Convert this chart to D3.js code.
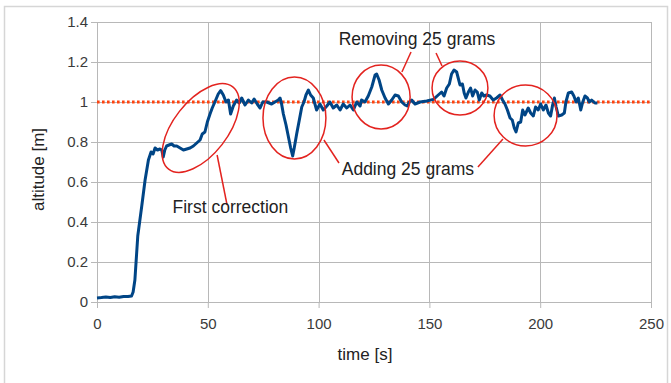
<!DOCTYPE html>
<html>
<head>
<meta charset="utf-8">
<script src="https://d3js.org/d3.v7.min.js"></script>
<style>
  body { margin: 0; background: #fff; }
  #altitudeChart { width: 671px; height: 383px; }
  text { font-family: "Liberation Sans", Arial, sans-serif; }
</style>
</head>
<body>
<div id="altitudeChart"></div>
<script>
// altitude log of the drone
var timeS = [0, 2, 4, 6, 8, 10, 12, 14, 15.6, 16.3, 17.1, 18.4, 20.2, 21.7, 23.2, 24.4, 25.3, 26.2, 27.3, 28.4,
  29.2, 29.9, 30.6, 31.4, 32.5, 33.7, 34.8, 36, 37.5, 39, 40.5, 42, 43.5, 45, 46.5, 47.5, 48.7, 49.8, 51, 52,
  53.2, 54.7, 55.8, 57, 58.2, 59.3, 60.3, 61.5, 63, 64.2, 65.3, 66.8, 68.3, 69.8, 70.9, 72.3, 73.6, 74.8, 76.6, 78.8,
  80.3, 81.8, 82.6, 83.3, 84.1, 85.3, 86.3, 87.4, 88.3, 89, 90.1, 91.3, 92.4, 93.4, 94.3, 95.4, 96.4, 97.6, 99.1, 100.6,
  102.1, 103.7, 105.1, 106.6, 108.2, 109.7, 111.1, 112.7, 114.2, 115.7, 117.2, 118.7, 119.4, 120.9, 122.4, 124, 125.5, 126.2, 127.3, 128.5,
  130, 131.5, 133, 134.5, 136, 137.5, 139, 140, 141, 142, 143.5, 145.8, 148.8, 151.8, 154, 155.5, 156.6, 157.8, 159, 160,
  161.1, 162.3, 163, 163.8, 164.9, 165.7, 166.5, 167.6, 168.6, 169.5, 170.6, 171.6, 172.5, 173.6, 174.6, 175.8, 177.3, 178.8, 180.3, 181.9,
  183, 184.1, 185.2, 186.4, 187.4, 188.3, 189.1, 190.1, 191.2, 192.1, 193.1, 194.6, 195.7, 196.9, 197.9, 199.1, 200.2, 201.4, 202.6, 203.7,
  204.7, 205.6, 206.4, 207.2, 208.2, 209.7, 210.9, 211.6, 212.7, 214.2, 215.2, 216.2, 217.2, 218.3, 219.2, 220.2, 221.3, 222.2, 223.2, 224.7, 225.8];
var altitudeM = [0.02, 0.022, 0.025, 0.022, 0.026, 0.024, 0.028, 0.027, 0.03, 0.05, 0.11, 0.33, 0.48, 0.61, 0.71, 0.75, 0.74, 0.77, 0.76, 0.765,
  0.76, 0.725, 0.76, 0.78, 0.785, 0.79, 0.78, 0.78, 0.77, 0.76, 0.765, 0.77, 0.78, 0.795, 0.81, 0.84, 0.85, 0.9, 0.94, 0.97,
  1.0, 1.04, 1.057, 1.035, 1.0, 1.01, 0.94, 0.98, 1.01, 0.995, 1.02, 0.985, 1.01, 0.995, 1.015, 0.99, 0.97, 1.0, 1.0, 0.99,
  1.0, 1.01, 1.02, 0.99, 0.94, 0.885, 0.83, 0.77, 0.73, 0.77, 0.84, 0.91, 0.975, 1.0, 1.035, 1.06, 1.035, 1.02, 0.96, 0.99,
  0.96, 0.98, 1.0, 0.97, 0.985, 0.96, 0.99, 0.97, 0.985, 0.96, 1.0, 0.98, 1.01, 1.0, 1.03, 1.075, 1.135, 1.14, 1.11, 1.06,
  1.02, 0.99, 1.01, 1.035, 1.03, 1.0, 0.985, 0.98, 1.0, 1.01, 0.99, 1.0, 1.005, 1.013, 1.035, 1.05, 1.03, 1.07, 1.09, 1.14,
  1.16, 1.15, 1.12, 1.085, 1.09, 1.045, 1.02, 1.05, 1.07, 1.03, 1.06, 1.05, 1.01, 1.045, 1.03, 1.035, 1.03, 1.01, 1.02, 1.035,
  1.01, 0.99, 0.96, 0.92, 0.91, 0.87, 0.85, 0.895, 0.9, 0.96, 0.935, 0.97, 0.945, 0.93, 0.975, 0.96, 0.99, 0.96, 0.985, 0.945,
  0.93, 0.985, 1.02, 0.975, 0.93, 0.935, 0.945, 1.0, 1.045, 1.05, 1.03, 1.0, 1.02, 0.96, 1.0, 1.03, 1.02, 1.0, 1.01, 0.995, 0.995];

var setpoint = 1;
var xTicks = [0, 50, 100, 150, 200, 250];
var yTicks = [0, 0.2, 0.4, 0.6, 0.8, 1, 1.2, 1.4];

// annotation circles: centre (t, alt), half axes in s / m, tilt in degrees
var circleT = [46.8, 89.1, 128.2, 163.8, 193.4];
var circleAlt = [0.87, 0.92, 1.025, 1.07, 0.9325];
var circleRt = [23.5, 14.2, 13.1, 12.6, 14.2];
var circleRalt = [0.135, 0.205, 0.16, 0.135, 0.1525];
var circleTilt = [-52, 0, 0, 0, 0];

// leader lines [t1, alt1, t2, alt2]
var leaders = [
  [54.2, 0.735, 58.7, 0.485],
  [102.4, 0.81, 109.2, 0.695],
  [183.2, 0.815, 171.9, 0.675],
  [137.6, 1.15, 141.7, 1.25],
  [155.7, 1.18, 153, 1.245]
];
var labelText = ["Removing 25 grams", "Adding 25 grams", "First correction"];
var labelT = [144.4, 140.3, 60.2];
var labelAlt = [1.285, 0.635, 0.443];

var margin = { top: 22, right: 20, bottom: 81, left: 97 },
  width = 671 - margin.left - margin.right,
  height = 383 - margin.top - margin.bottom;

var data = timeS.map(function(t, i) {
  return { t: t, alt: altitudeM[i] };
});

var x = d3.scaleLinear().domain([0, 250]).range([0, width]);
var y = d3.scaleLinear().domain([0, 1.4]).range([height, 0]);

var root = d3
  .select("#altitudeChart")
  .append("svg")
  .attr("width", 671)
  .attr("height", 383);

// light frame round the whole picture
root
  .append("rect")
  .attr("x", 4.5)
  .attr("y", 6.5)
  .attr("width", 663)
  .attr("height", 385)
  .attr("fill", "none")
  .attr("stroke", "#d6d6d6")
  .attr("stroke-width", 1.5);

var svg = root
  .append("g")
  .attr("transform", "translate(" + margin.left + "," + margin.top + ")");

var grid = "#b8b8b8";

svg
  .append("g")
  .selectAll("line")
  .data(yTicks)
  .enter()
  .append("line")
  .attr("x1", 0)
  .attr("x2", width)
  .attr("y1", function(d) { return Math.round(y(d)) + 0.5; })
  .attr("y2", function(d) { return Math.round(y(d)) + 0.5; })
  .attr("stroke", grid);

svg
  .append("g")
  .selectAll("line")
  .data(xTicks)
  .enter()
  .append("line")
  .attr("y1", 0)
  .attr("y2", height)
  .attr("x1", function(d) { return Math.round(x(d)) + 0.5; })
  .attr("x2", function(d) { return Math.round(x(d)) + 0.5; })
  .attr("stroke", grid);

var xAxis = svg
  .append("g")
  .attr("transform", "translate(0," + height + ")")
  .call(d3.axisBottom(x).tickValues(xTicks).tickSize(6).tickPadding(10));

var yAxis = svg
  .append("g")
  .call(
    d3
      .axisLeft(y)
      .tickValues(yTicks)
      .tickSize(6)
      .tickPadding(3)
      .tickFormat(function(d) { return d3.format("")(+d.toFixed(1)); })
  );

[xAxis, yAxis].forEach(function(ax) {
  ax.select(".domain").attr("stroke", grid);
  ax.selectAll(".tick line").attr("stroke", grid);
  ax.selectAll("text")
    .attr("fill", "#3a3a3a")
    .style("font-size", "15px")
    .style("font-family", "'Liberation Sans', Arial, sans-serif");
});

// setpoint
svg
  .append("line")
  .attr("x1", x(0))
  .attr("x2", x(250))
  .attr("y1", y(setpoint))
  .attr("y2", y(setpoint))
  .attr("stroke", "#ff420e")
  .attr("stroke-width", 3)
  .attr("stroke-dasharray", "2.6,2.4");

var valueline = d3
  .line()
  .x(function(d) { return x(d.t); })
  .y(function(d) { return y(d.alt); });

svg
  .append("path")
  .attr("d", valueline(data))
  .attr("fill", "none")
  .attr("stroke", "#004586")
  .attr("stroke-width", 3)
  .attr("stroke-linejoin", "round");

// annotations
var red = "#e3231f";

svg
  .append("g")
  .selectAll("ellipse")
  .data(circleT)
  .enter()
  .append("ellipse")
  .attr("transform", function(d, i) {
    return "translate(" + x(d) + "," + y(circleAlt[i]) + ") rotate(" + circleTilt[i] + ")";
  })
  .attr("rx", function(d, i) { return x(circleRt[i]) - x(0); })
  .attr("ry", function(d, i) { return y(0) - y(circleRalt[i]); })
  .attr("fill", "none")
  .attr("stroke", red)
  .attr("stroke-width", 1.5);

svg
  .append("g")
  .selectAll("line")
  .data(leaders)
  .enter()
  .append("line")
  .attr("x1", function(d) { return x(d[0]); })
  .attr("y1", function(d) { return y(d[1]); })
  .attr("x2", function(d) { return x(d[2]); })
  .attr("y2", function(d) { return y(d[3]); })
  .attr("stroke", red)
  .attr("stroke-width", 1.5);

svg
  .append("g")
  .selectAll("text")
  .data(labelText)
  .enter()
  .append("text")
  .attr("x", function(d, i) { return x(labelT[i]); })
  .attr("y", function(d, i) { return y(labelAlt[i]); })
  .attr("text-anchor", "middle")
  .attr("fill", "#222")
  .style("font-size", "17.5px")
  .text(function(d) { return d; });

// axis titles
svg
  .append("text")
  .attr("x", 268)
  .attr("y", height + 58)
  .attr("text-anchor", "middle")
  .attr("fill", "#222")
  .style("font-size", "17px")
  .text("time [s]");

svg
  .append("text")
  .attr("transform", "translate(" + (44 - margin.left) + "," + (169.5 - margin.top) + ") rotate(-90)")
  .attr("text-anchor", "middle")
  .attr("fill", "#222")
  .style("font-size", "17px")
  .text("altitude [m]");
</script>
</body>
</html>
